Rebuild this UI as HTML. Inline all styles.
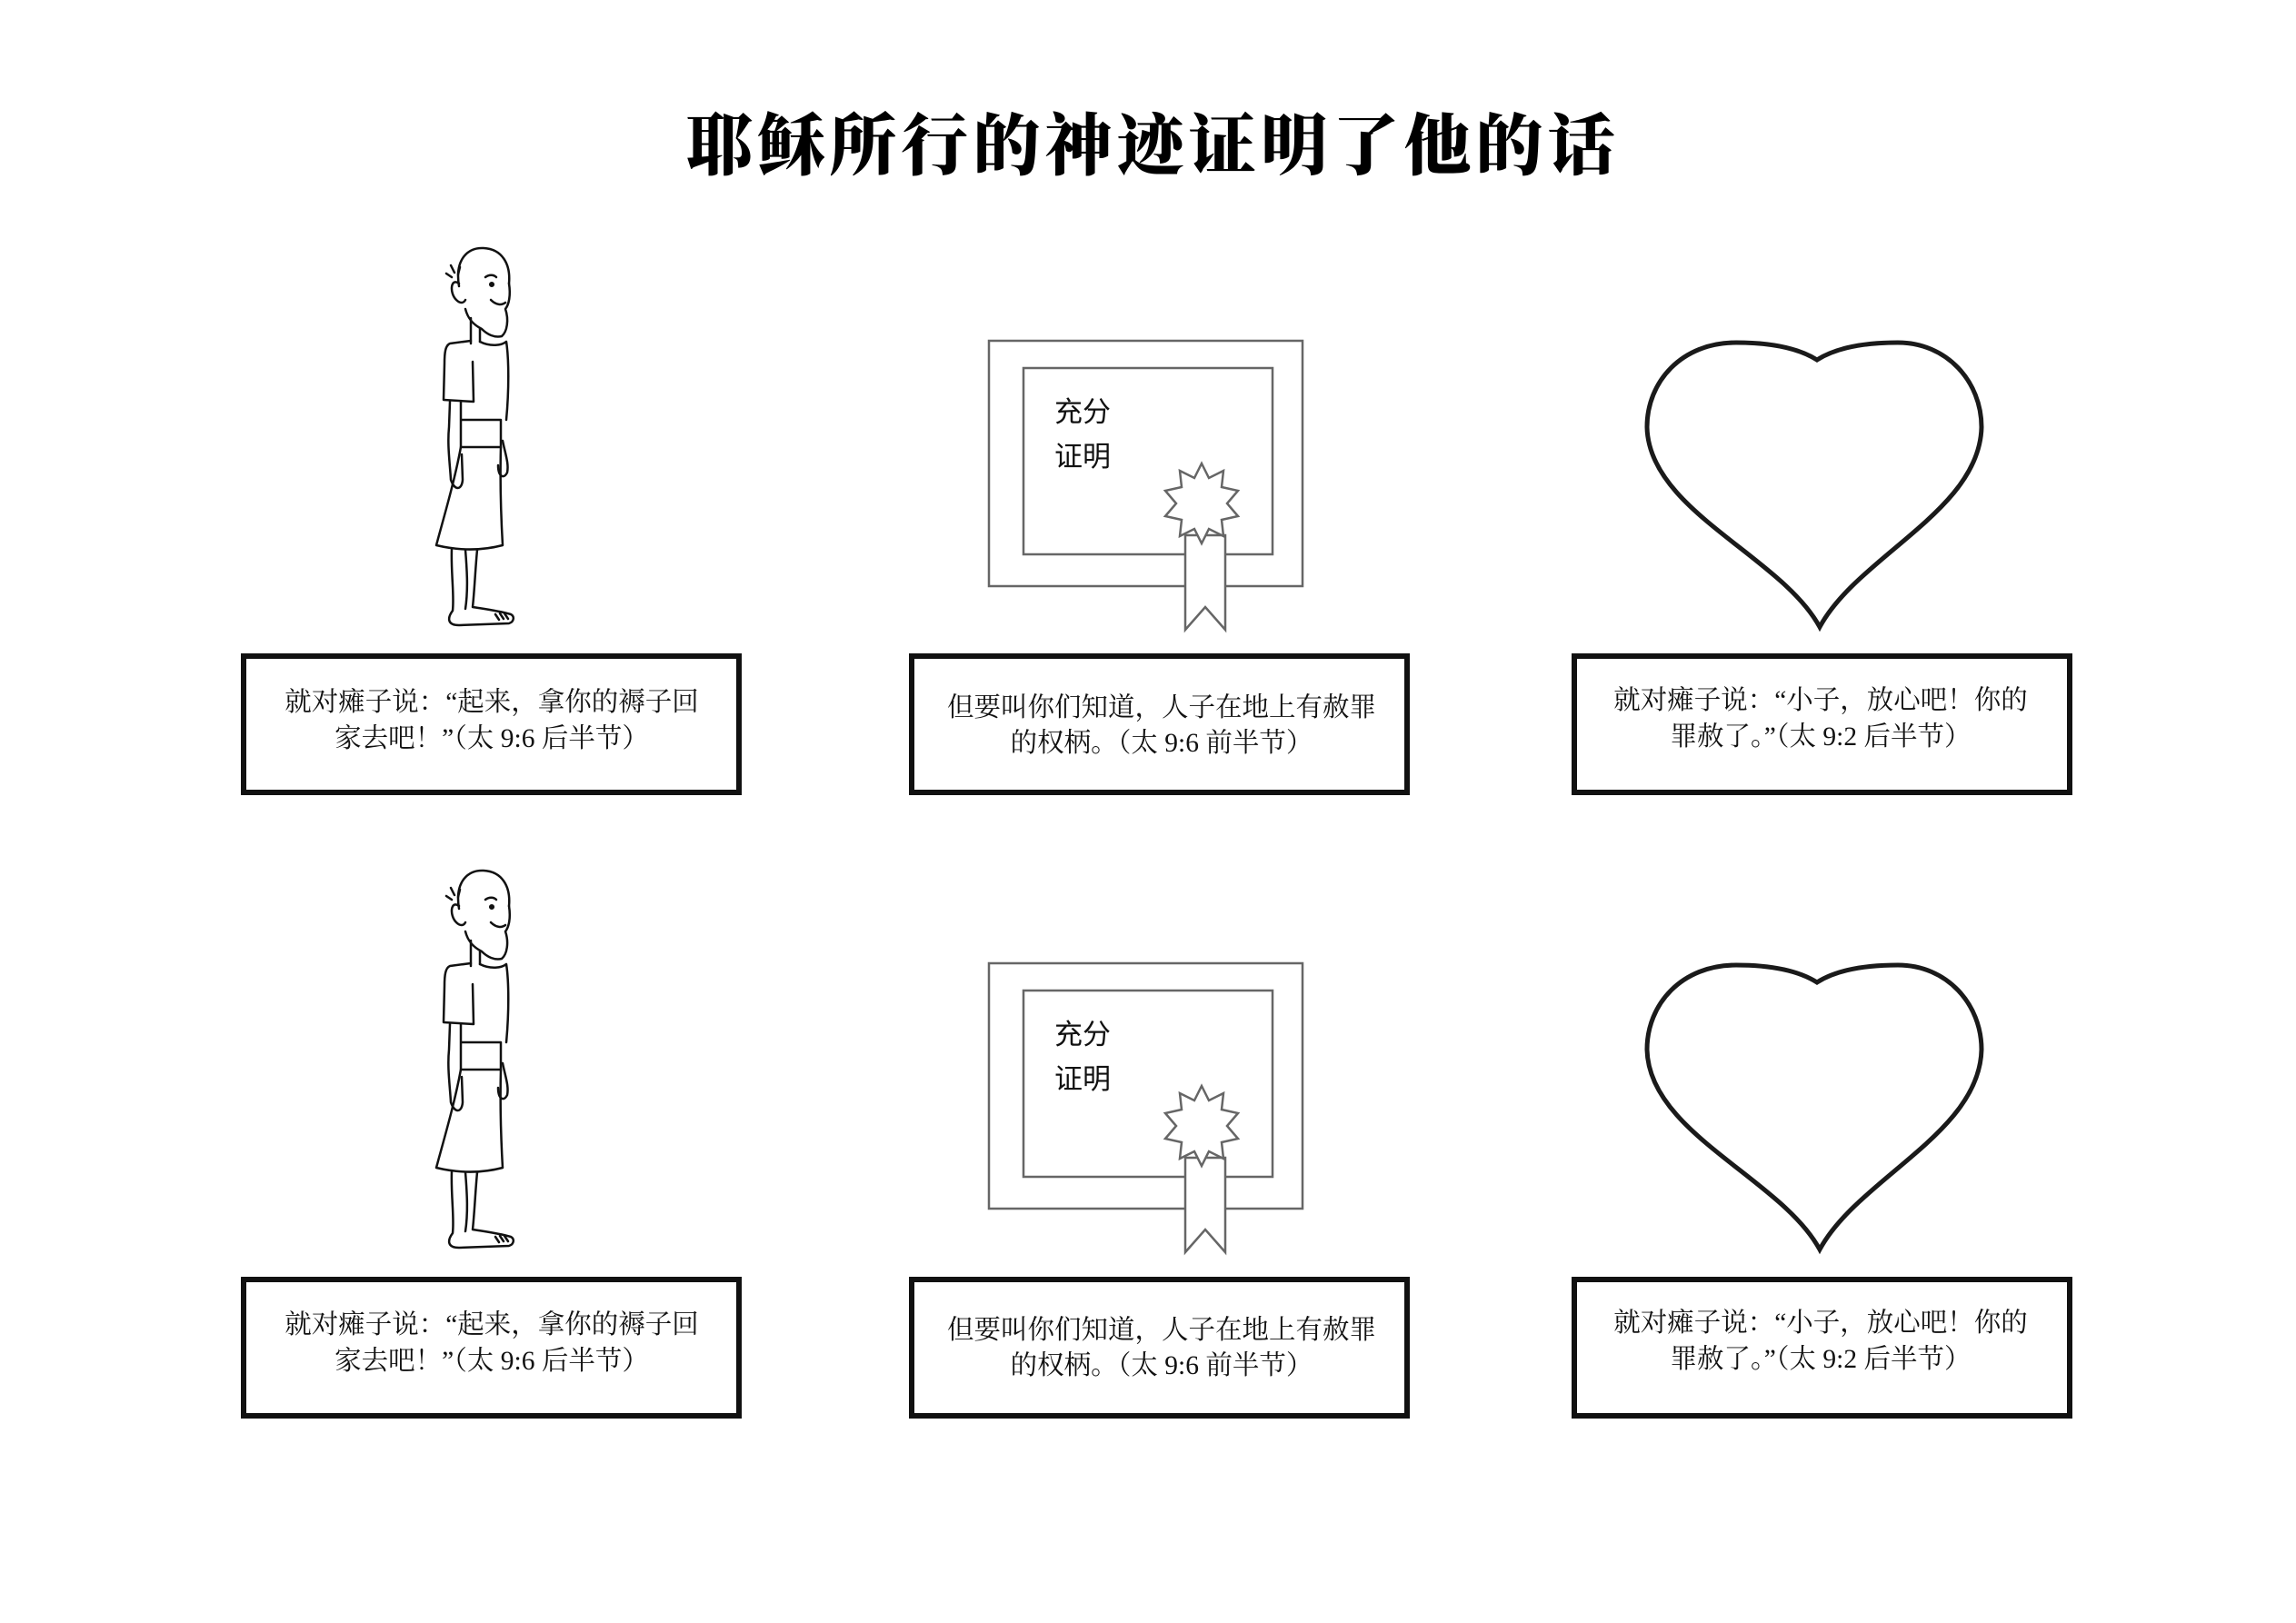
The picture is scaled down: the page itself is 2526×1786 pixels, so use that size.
<!DOCTYPE html>
<html><head><meta charset="utf-8"><style>
html,body{margin:0;padding:0;background:#fff}
svg{display:block}
.t{font-family:"Liberation Serif","Noto Serif CJK SC",serif;font-size:29.5px;fill:#111}
.c{font-family:"Liberation Sans","Noto Sans CJK SC",sans-serif;font-size:31px;fill:#111}
</style></head><body>
<svg width="2526" height="1786" viewBox="0 0 2526 1786" xmlns="http://www.w3.org/2000/svg">
<defs>
<g id="man" fill="none" stroke="#111" stroke-width="2.5" stroke-linejoin="round" stroke-linecap="round">
  <path d="M505,315 C500,285 515,272 532,273 C552,274 562,290 560,312"/>
  <path d="M505,312 C496,305 494,322 502,330 C506,334 510,334 512,330"/>
  <path d="M497,305 l-6,-4 M500,300 l-4,-8 M504,302 l2,-8"/>
  <path d="M560,312 C562,325 560,335 556,340 C560,352 558,365 552,370 C544,372 536,368 530,362 C522,358 515,352 512,340"/>
  <path d="M540,330 C546,336 552,336 556,333"/>
  <circle cx="541" cy="313" r="1.8" fill="#111"/>
  <path d="M534,305 C538,302 543,302 546,305"/>
  <path d="M518,350 L518,378 M528,362 L528,376"/>
  <path d="M518,375 L495,378 C490,380 489,388 489,400 L488,440 L521,442 L520,398"/>
  <path d="M528,376 C540,382 552,380 557,376 C560,395 560,430 557,462"/>
  <path d="M507,442 L507,462 L551,462 L551,492 L507,492 L507,462"/>
  <path d="M495,442 L494,470 C492,490 495,510 496,528 C500,540 508,540 509,528 L508,500"/>
  <path d="M553,485 C556,500 560,510 558,520 C554,528 548,524 548,512"/>
  <path d="M507,492 C500,530 488,570 480,600 C505,606 530,606 553,600 C551,565 550,530 551,492"/>
  <path d="M497,604 C496,630 500,655 498,672 C492,680 492,688 505,688 L560,686 C566,684 566,678 562,676 C548,672 532,670 520,668 C522,650 523,625 525,605"/>
  <path d="M512,605 C514,630 515,650 512,670"/>
  <path d="M545,676 l4,6 M550,675 l4,6 M555,675 l4,6"/>
</g>
<g id="cert" fill="#fff" stroke="#666" stroke-width="2.5">
  <rect x="1088" y="375" width="345" height="270"/>
  <rect x="1126" y="405" width="274" height="205"/>
  <path d="M1304,589 L1348,589 L1348,693 L1326,668 L1304,693 Z"/>
  <polygon points="1322,510 1330,526 1346,518 1344,536 1362,540 1350,554 1362,568 1344,572 1346,590 1330,582 1322,598 1314,582 1298,590 1300,572 1282,568 1294,554 1282,540 1300,536 1298,518 1314,526"/>
</g>
<path id="heart" d="M1999,396 C1980,384 1952,377 1910,377 C1850,377 1812,420 1812,470 C1814,562 1960,612 2002,690 C2044,612 2178,562 2180,470 C2180,420 2142,377 2088,377 C2048,377 2018,384 1999,396 Z" fill="none" stroke="#1a1a1a" stroke-width="5"/>
</defs>

<text x="1268" y="186" text-anchor="middle" font-family="Noto Serif CJK SC, serif" font-weight="900" font-size="74" letter-spacing="5" fill="#000">耶稣所行的神迹证明了他的话</text>

<g>
<use href="#man"/>
<use href="#cert"/>
<text class="c" x="1160" y="464">充分</text>
<text class="c" x="1160" y="513">证明</text>
<use href="#heart"/>
</g>
<g transform="translate(0,685)">
<use href="#man"/>
<use href="#cert"/>
<text class="c" x="1160" y="464">充分</text>
<text class="c" x="1160" y="513">证明</text>
<use href="#heart"/>
</g>

<g fill="none" stroke="#111" stroke-width="6">
<rect x="268" y="722" width="545" height="150"/>
<rect x="1003" y="722" width="545" height="150"/>
<rect x="1732" y="722" width="545" height="150"/>
<rect x="268" y="1408" width="545" height="150"/>
<rect x="1003" y="1408" width="545" height="150"/>
<rect x="1732" y="1408" width="545" height="150"/>
</g>

<g class="t" text-anchor="middle">
<text x="541" y="782">就对瘫子说：“起来，拿你的褥子回</text>
<text x="541" y="822">家去吧！”（太 9:6 后半节）</text>
<text x="1278" y="788">但要叫你们知道，人子在地上有赦罪</text>
<text x="1278" y="827">的权柄。（太 9:6 前半节）</text>
<text x="2003" y="780">就对瘫子说：“小子，放心吧！你的</text>
<text x="2003" y="820">罪赦了。”（太 9:2 后半节）</text>
<text x="541" y="1467">就对瘫子说：“起来，拿你的褥子回</text>
<text x="541" y="1507">家去吧！”（太 9:6 后半节）</text>
<text x="1278" y="1473">但要叫你们知道，人子在地上有赦罪</text>
<text x="1278" y="1512">的权柄。（太 9:6 前半节）</text>
<text x="2003" y="1465">就对瘫子说：“小子，放心吧！你的</text>
<text x="2003" y="1505">罪赦了。”（太 9:2 后半节）</text>
</g>
</svg>
</body></html>
